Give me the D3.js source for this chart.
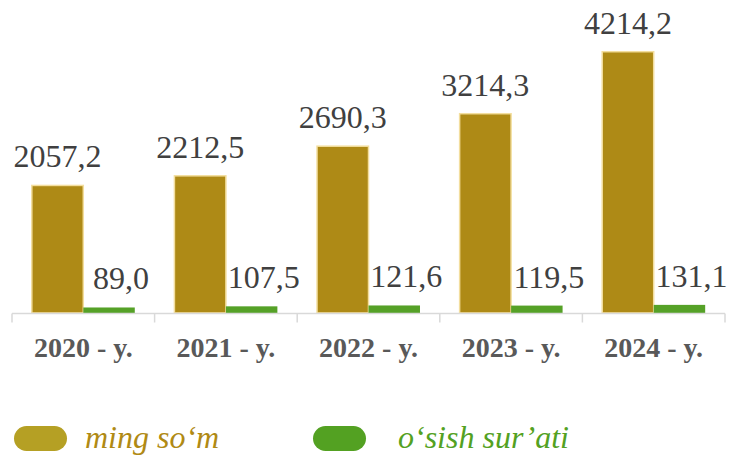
<!DOCTYPE html>
<meta charset="utf-8">
<html>
<head>
<style>
  body { margin: 0; background: #fff; }
  svg { display: block; }
</style>
<script src="https://d3js.org/d3.v7.min.js"></script>
</head>
<body>
<div id="vis"></div>
<script>
  // data
  var years = ["2020 - y.", "2021 - y.", "2022 - y.", "2023 - y.", "2024 - y."];
  var mingSom = [2057.2, 2212.5, 2690.3, 3214.3, 4214.2];
  var osishSurati = [89.0, 107.5, 121.6, 119.5, 131.1];
  var seriesNames = ["ming so‘m", "o‘sish sur’ati"];

  var width = 734, height = 456;
  var barColors = ["#AE8A16", "#55A127"];
  var legendColors = ["#B5A024", "#53A122"];
  var legendText = ["#B08A14", "#53A122"];

  var svg = d3.select("#vis").append("svg")
    .attr("width", width)
    .attr("height", height);

  var x = d3.scaleBand().domain(years).range([12, 725]);
  var xs = d3.scaleBand().domain(seriesNames).range([0, x.bandwidth()])
    .paddingInner(0).paddingOuter(0.385);
  var y = d3.scaleLinear().domain([0, 5000]).range([313, 3]);

  var rows = years.map(function(d, i) {
    return { year: d, vals: [mingSom[i], osishSurati[i]] };
  });

  var fmt = function(v) { return d3.format(".1f")(v).replace(".", ","); };

  // bars
  var groups = svg.selectAll(".yr")
    .data(rows)
    .enter().append("g")
    .attr("transform", function(d) { return "translate(" + x(d.year) + ",0)"; });

  groups.selectAll("rect")
    .data(function(d) { return d.vals.map(function(v, j) { return { v: v, s: j }; }); })
    .enter().append("rect")
    .attr("x", function(d) { return xs(seriesNames[d.s]); })
    .attr("width", xs.bandwidth())
    .attr("y", function(d) { return y(d.v); })
    .attr("height", function(d) { return y(0) - y(d.v); })
    .style("fill", function(d) { return barColors[d.s]; })
    .style("stroke", function(d) { return d.s === 0 ? "#F3DE9E" : "none"; })
    .style("stroke-width", 1.5);

  // value labels
  groups.selectAll("text")
    .data(function(d) { return d.vals.map(function(v, j) { return { v: v, s: j }; }); })
    .enter().append("text")
    .attr("x", function(d) { return xs(seriesNames[d.s]) + xs.bandwidth() / 2 + (d.s === 1 ? 12 : 0); })
    .attr("y", function(d) { return y(d.v) - 18; })
    .attr("text-anchor", "middle")
    .style("font-family", "'Liberation Serif', serif")
    .style("font-size", "32px")
    .style("fill", "#404040")
    .text(function(d) { return fmt(d.v); });

  // x axis
  var xAxis = svg.append("g")
    .attr("transform", "translate(0," + (y(0) + 0.5) + ")");
  xAxis.append("line")
    .attr("x1", x.range()[0]).attr("x2", x.range()[1])
    .style("stroke", "#D9D9D9").style("stroke-width", 1.5);
  var tickPos = years.map(function(d) { return x(d); }).concat([x.range()[1]]);
  xAxis.selectAll(".tk")
    .data(tickPos)
    .enter().append("line")
    .attr("x1", function(d) { return d; }).attr("x2", function(d) { return d; })
    .attr("y1", 0).attr("y2", 9)
    .style("stroke", "#D9D9D9").style("stroke-width", 1.5);
  xAxis.selectAll(".lbl")
    .data(years)
    .enter().append("text")
    .attr("x", function(d) { return x(d) + x.bandwidth() / 2; })
    .attr("y", 43)
    .attr("text-anchor", "middle")
    .style("font-family", "'Liberation Serif', serif")
    .style("font-weight", "bold")
    .style("font-size", "28px")
    .style("fill", "#595959")
    .text(function(d) { return d; });

  // legend
  var legendX = [14, 313];
  var legend = svg.selectAll(".leg")
    .data(seriesNames)
    .enter().append("g")
    .attr("transform", function(d, i) { return "translate(" + legendX[i] + ",426)"; });
  legend.append("rect")
    .attr("width", 53).attr("height", 25)
    .attr("rx", 12.5).attr("ry", 12.5)
    .style("fill", function(d, i) { return legendColors[i]; });
  legend.append("text")
    .attr("x", function(d, i) { return i === 0 ? 71 : 85; })
    .attr("y", 22)
    .style("font-family", "'Liberation Serif', serif")
    .style("font-style", "italic")
    .style("font-size", "32px")
    .style("fill", function(d, i) { return legendText[i]; })
    .text(function(d) { return d; });
</script>
</body>
</html>
